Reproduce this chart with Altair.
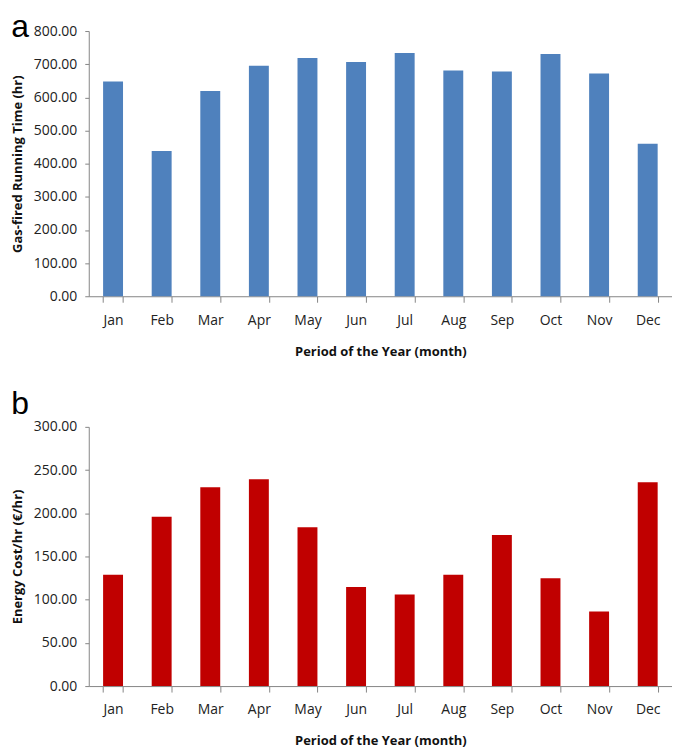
import altair as alt
import pandas as pd

months = ["Jan", "Feb", "Mar", "Apr", "May", "Jun", "Jul", "Aug", "Sep", "Oct", "Nov", "Dec"]
running_time = [648, 438, 619, 695, 719, 707, 734, 681, 678, 731, 672, 460]
energy_cost = [128.9, 196.0, 230.2, 239.4, 183.7, 114.7, 105.9, 128.9, 174.9, 124.7, 86.3, 235.9]

df = pd.DataFrame({"month": months, "time": running_time, "cost": energy_cost})

FONT = "Open Sans"
GRAY = "#868686"


def panel(field, ytitle, ymax, ystep, color, letter, height, toffset):
    xaxis = alt.Axis(
        title="Period of the Year (month)",
        labelAngle=0,
        tickBand="extent",
        tickSize=6,
        tickColor=GRAY,
        domainColor=GRAY,
        labelPadding=11,
        titlePadding=18,
        labelFontSize=14,
        titleFontSize=13,
        labelFont=FONT,
        titleFont=FONT,
        titleFontWeight="bold",
        labelColor="#222222",
        titleColor="#111111",
    )
    yaxis = alt.Axis(
        title=ytitle,
        values=list(range(0, ymax + 1, ystep)),
        format=".2f",
        grid=False,
        tickSize=4,
        tickColor=GRAY,
        domainColor=GRAY,
        labelPadding=8,
        titlePadding=9,
        labelFontSize=14,
        titleFontSize=13,
        labelFont=FONT,
        titleFont=FONT,
        titleFontWeight="bold",
        labelColor="#222222",
        titleColor="#111111",
    )
    return (
        alt.Chart(df)
        .mark_bar(color=color)
        .encode(
            x=alt.X("month:N", sort=months, axis=xaxis,
                    scale=alt.Scale(paddingInner=0.59, paddingOuter=0.295)),
            y=alt.Y(f"{field}:Q", axis=yaxis, scale=alt.Scale(domain=[0, ymax], nice=False)),
        )
        .properties(
            width=585,
            height=height,
            title=alt.TitleParams(letter, anchor="start", frame="bounds", fontSize=32,
                                  font="Liberation Sans", fontWeight="normal", offset=toffset),
        )
    )


a = panel("time", "Gas-fired Running Time (hr)", 800, 100, "#4F81BD", "a", 266, -20)
b = panel("cost", "Energy Cost/hr (€/hr)", 300, 50, "#C00000", "b", 260, -1)

chart = (
    alt.vconcat(a, b, spacing=30)
    .properties(padding={"left": 3, "top": 2, "right": 0, "bottom": 0})
    .configure_view(stroke=None)
)
chart.save("out.html", embed_options={"renderer": "svg", "actions": False})
